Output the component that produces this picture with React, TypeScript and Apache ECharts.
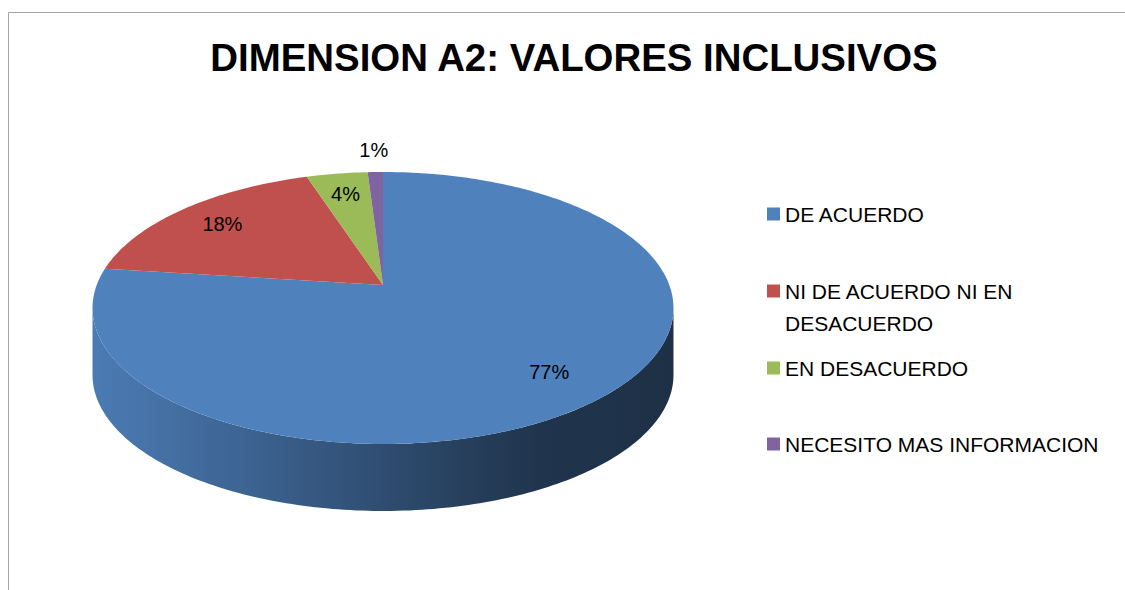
import React, { useEffect, useRef } from 'react';
import * as echarts from 'echarts';

// ---- data ----
const categories = [
  'DE ACUERDO',
  'NI DE ACUERDO NI EN DESACUERDO',
  'EN DESACUERDO',
  'NECESITO MAS INFORMACION',
];
const legendLabels = [
  'DE ACUERDO',
  '\nNI DE ACUERDO NI EN\nDESACUERDO',
  'EN DESACUERDO',
  'NECESITO MAS INFORMACION',
];
const values = [77, 18, 4, 1];
const colors = ['#4f81bd', '#c0504d', '#9bbb59', '#8064a2'];
const titleText = 'DIMENSION A2: VALORES INCLUSIVOS';

// ---- layout / style constants ----
const FONT = '"Liberation Sans", Arial, sans-serif';
const CX = 383;
const CY = 285;
const RX = 286.3;
const RY = 132.1;
const K = 0.169; // perspective factor
const DEPTH = 67;
const legendTops = [202, 243, 356, 432];

const total = values.reduce((a, b) => a + b, 0);
const TA = Math.acos(-K);
const TB = 2 * Math.PI - TA;
const XMIN = CX - RX / Math.sqrt(1 - K * K);
const XMAX = CX + RX / Math.sqrt(1 - K * K);

function project(theta: number, r = 1): number[] {
  const u = r * Math.sin(theta);
  const v = -r * Math.cos(theta);
  const s = 1 / (1 - K * v);
  return [CX + RX * u * s, CY + RY * v * s];
}

function arcPoints(t0: number, t1: number): number[][] {
  const n = Math.max(2, Math.ceil((t1 - t0) / (Math.PI / 180)));
  const pts: number[][] = [];
  for (let j = 0; j <= n; j++) {
    pts.push(project(t0 + ((t1 - t0) * j) / n));
  }
  return pts;
}

function shade(hex: string, f: number): string {
  const n = parseInt(hex.slice(1), 16);
  const r = Math.round(((n >> 16) & 255) * f);
  const g = Math.round(((n >> 8) & 255) * f);
  const b = Math.round((n & 255) * f);
  return `rgb(${r},${g},${b})`;
}

export default function App() {
  const ref = useRef<HTMLDivElement>(null);

  useEffect(() => {
    document.body.style.margin = '0';
    const chart = echarts.init(ref.current!, undefined, { renderer: 'svg' });

    const series = categories.map((name, i) => ({
      type: 'custom',
      name,
      coordinateSystem: 'none',
      color: colors[i],
      itemStyle: { color: colors[i] },
      data: [[values[i]]],
      renderItem: (params: any, api: any) => {
        const idx = params.seriesIndex;
        const val = api.value(0);
        const before = values.slice(0, idx).reduce((a, b) => a + b, 0);
        const t0 = (before / total) * 2 * Math.PI;
        const t1 = t0 + (val / total) * 2 * Math.PI;
        const children: any[] = [];

        const s0 = Math.max(t0, TA);
        const s1 = Math.min(t1, TB);
        if (s1 > s0) {
          const topArc = arcPoints(s0, s1);
          const bottomArc = topArc.map((p) => [p[0], p[1] + DEPTH]).reverse();
          children.push({
            type: 'polygon',
            shape: { points: topArc.concat(bottomArc) },
            style: {
              fill: new echarts.graphic.LinearGradient(
                XMIN, 0, XMAX, 0,
                [
                  { offset: 0, color: shade(colors[idx], 0.95) },
                  { offset: 0.15, color: shade(colors[idx], 0.85) },
                  { offset: 0.5, color: shade(colors[idx], 0.6) },
                  { offset: 0.62, color: shade(colors[idx], 0.5) },
                  { offset: 0.77, color: shade(colors[idx], 0.41) },
                  { offset: 1, color: shade(colors[idx], 0.37) },
                ],
                true
              ),
            },
          });
        }

        children.push({
          type: 'polygon',
          shape: { points: [[CX, CY]].concat(arcPoints(t0, t1)) },
          style: { fill: colors[idx] },
        });

        const frac = val / total;
        const mid = (t0 + t1) / 2;
        const lp = project(mid, frac < 0.02 ? 1.235 : 0.79);
        children.push({
          type: 'text',
          style: {
            text: `${Math.round(frac * 100)}%`,
            x: lp[0],
            y: lp[1],
            align: 'center',
            verticalAlign: 'middle',
            fontSize: 20,
            fontFamily: FONT,
            fill: '#000',
          },
        });

        return { type: 'group', children };
      },
    }));

    const legend = categories.map((name, i) => ({
      data: [name],
      formatter: () => legendLabels[i],
      orient: 'vertical',
      left: 767,
      top: legendTops[i],
      padding: 0,
      itemGap: 0,
      icon: 'rect',
      itemWidth: 13,
      itemHeight: 13,
      selectedMode: false,
      textStyle: {
        fontSize: 21,
        fontFamily: FONT,
        color: '#000',
        lineHeight: i === 1 ? 32 : 24,
      },
    }));

    chart.setOption({
      animation: false,
      backgroundColor: '#fff',
      title: {
        text: titleText,
        left: 574,
        top: 38,
        textAlign: 'center',
        padding: 0,
        textStyle: {
          fontSize: 38.4,
          fontWeight: 'bold',
          fontFamily: FONT,
          color: '#000',
        },
      },
      legend,
      graphic: [
        {
          type: 'rect',
          shape: { x: 8.5, y: 12.5, width: 1300, height: 800 },
          style: { fill: 'none', stroke: '#a6a6a6', lineWidth: 1 },
          silent: true,
          z: -1,
        },
      ],
      series,
    });

    return () => chart.dispose();
  }, []);

  return <div ref={ref} style={{ width: 1125, height: 590 }} />;
}
